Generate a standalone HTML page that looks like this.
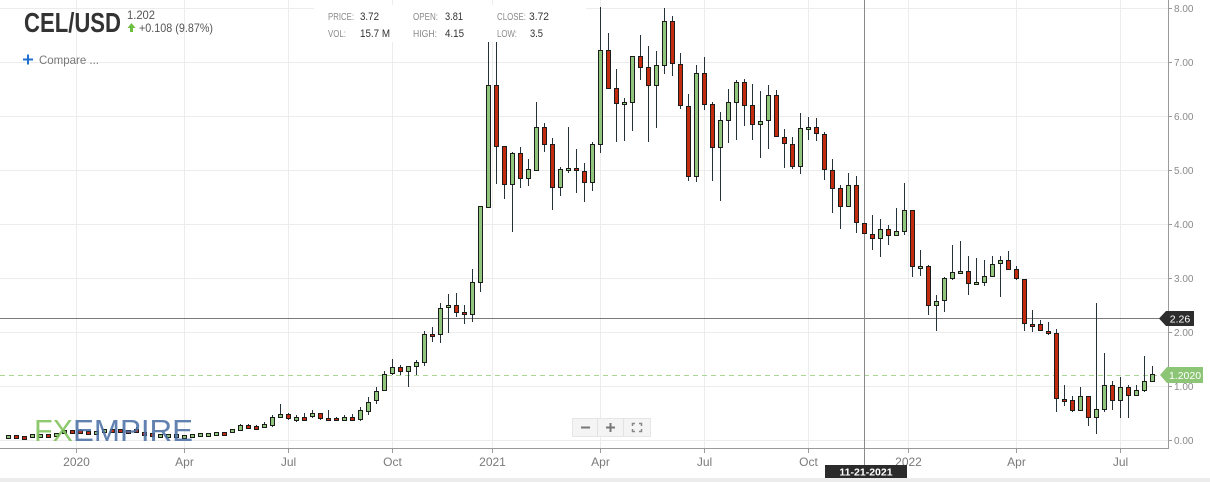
<!DOCTYPE html>
<html><head><meta charset="utf-8"><style>
html,body{margin:0;padding:0;background:#fff;}
svg{display:block;}
text{font-family:"Liberation Sans",sans-serif;}
.g{fill:#90c67c;stroke:#1c1c1c;stroke-width:1;}
.r{fill:#c22b0d;stroke:#1c1c1c;stroke-width:1;}
</style></head><body>
<svg width="1210" height="482" viewBox="0 0 1210 482" xmlns="http://www.w3.org/2000/svg">
<rect x="0" y="0" width="1210" height="482" fill="#fff"/>
<rect x="0" y="478" width="1210" height="4" fill="#ececec"/>
<!-- grid -->
<g stroke="#ececec" stroke-width="1">
<line x1="0" y1="8.5" x2="1168" y2="8.5"/><line x1="0" y1="62.5" x2="1168" y2="62.5"/><line x1="0" y1="116.5" x2="1168" y2="116.5"/><line x1="0" y1="170.5" x2="1168" y2="170.5"/><line x1="0" y1="224.5" x2="1168" y2="224.5"/><line x1="0" y1="278.5" x2="1168" y2="278.5"/><line x1="0" y1="332.5" x2="1168" y2="332.5"/><line x1="0" y1="386.5" x2="1168" y2="386.5"/><line x1="0" y1="440.5" x2="1168" y2="440.5"/>
<line x1="76.5" y1="0" x2="76.5" y2="448"/><line x1="184.5" y1="0" x2="184.5" y2="448"/><line x1="288.5" y1="0" x2="288.5" y2="448"/><line x1="392.5" y1="0" x2="392.5" y2="448"/><line x1="492.5" y1="0" x2="492.5" y2="448"/><line x1="600.5" y1="0" x2="600.5" y2="448"/><line x1="704.5" y1="0" x2="704.5" y2="448"/><line x1="808.5" y1="0" x2="808.5" y2="448"/><line x1="908.5" y1="0" x2="908.5" y2="448"/><line x1="1016.5" y1="0" x2="1016.5" y2="448"/><line x1="1120.5" y1="0" x2="1120.5" y2="448"/>
</g>
<!-- axes -->
<g stroke="#9a9a9a" stroke-width="1">
<line x1="1168.5" y1="0" x2="1168.5" y2="449"/><line x1="0" y1="448.5" x2="1169" y2="448.5"/>
<line x1="1168" y1="8.5" x2="1172" y2="8.5"/><line x1="1168" y1="62.5" x2="1172" y2="62.5"/><line x1="1168" y1="116.5" x2="1172" y2="116.5"/><line x1="1168" y1="170.5" x2="1172" y2="170.5"/><line x1="1168" y1="224.5" x2="1172" y2="224.5"/><line x1="1168" y1="278.5" x2="1172" y2="278.5"/><line x1="1168" y1="332.5" x2="1172" y2="332.5"/><line x1="1168" y1="386.5" x2="1172" y2="386.5"/><line x1="1168" y1="440.5" x2="1172" y2="440.5"/>
<line x1="76.5" y1="448" x2="76.5" y2="453"/><line x1="184.5" y1="448" x2="184.5" y2="453"/><line x1="288.5" y1="448" x2="288.5" y2="453"/><line x1="392.5" y1="448" x2="392.5" y2="453"/><line x1="492.5" y1="448" x2="492.5" y2="453"/><line x1="600.5" y1="448" x2="600.5" y2="453"/><line x1="704.5" y1="448" x2="704.5" y2="453"/><line x1="808.5" y1="448" x2="808.5" y2="453"/><line x1="908.5" y1="448" x2="908.5" y2="453"/><line x1="1016.5" y1="448" x2="1016.5" y2="453"/><line x1="1120.5" y1="448" x2="1120.5" y2="453"/>
</g>
<g font-size="10" fill="#8a8a8a">
<text x="1174" y="12">8.00</text><text x="1174" y="66">7.00</text><text x="1174" y="120">6.00</text><text x="1174" y="174">5.00</text><text x="1174" y="228">4.00</text><text x="1174" y="282">3.00</text><text x="1174" y="336">2.00</text><text x="1174" y="390">1.00</text><text x="1174" y="444">0.00</text>
</g>
<g font-size="12" fill="#7a7a7a" text-anchor="middle">
<text x="76.5" y="466">2020</text><text x="184.5" y="466">Apr</text><text x="288.5" y="466">Jul</text><text x="392.5" y="466">Oct</text><text x="492.5" y="466">2021</text><text x="600.5" y="466">Apr</text><text x="704.5" y="466">Jul</text><text x="808.5" y="466">Oct</text><text x="908.5" y="466">2022</text><text x="1016.5" y="466">Apr</text><text x="1120.5" y="466">Jul</text>
</g>
<!-- current price dashed -->
<line x1="0" y1="375.5" x2="1162" y2="375.5" stroke="#a9d595" stroke-width="1" stroke-dasharray="5,4"/>
<!-- crosshair -->
<line x1="0" y1="318.5" x2="1168" y2="318.5" stroke="#7a7a7a" stroke-width="1"/>
<line x1="864.5" y1="0" x2="864.5" y2="465" stroke="#8a8a8a" stroke-width="1"/>
<!-- wicks -->
<path fill="none" stroke="#26323a" stroke-width="1" d="
M80.5 429V434 M136.5 427V433 M232.5 429V433
M240.5 424V431 M248.5 424V429 M256.5 425V430 M264.5 422V428 M272.5 415V427 M280.5 404V418 M288.5 413V420 M296.5 415V422 M304.5 413V421 M312.5 410V418 M320.5 413V420 M328.5 410V421 M336.5 417V421 M344.5 415V421 M352.5 414V421
M360.5 407V421 M368.5 397V415 M376.5 387V404 M384.5 371V391 M392.5 359V375 M400.5 365V375 M408.5 366V387 M416.5 360V375 M424.5 331V366 M432.5 327V342 M440.5 303V343 M448.5 294V333 M456.5 293V317 M464.5 305V324 M472.5 269V322 M480.5 206V292
M488.5 42V207 M496.5 42V184 M504.5 146V199 M512.5 152V232 M520.5 147V188 M528.5 159V186 M536.5 102V171 M544.5 123V152 M552.5 138V210 M560.5 167V196 M568.5 127V173 M576.5 149V193 M584.5 163V202 M592.5 142V191
M600.5 7V153 M608.5 33V88 M616.5 69V142 M624.5 98V141 M632.5 56V131 M640.5 35V80 M648.5 46V142 M656.5 51V128 M664.5 8V74 M672.5 16V76 M680.5 53V109 M688.5 94V181 M696.5 65V182 M704.5 57V110 M712.5 102V181 M720.5 112V201 M728.5 89V143 M736.5 80V140 M744.5 79V126 M752.5 84V140 M760.5 91V158 M768.5 85V149 M776.5 90V136 M784.5 129V168 M792.5 137V169 M800.5 113V174 M808.5 117V140 M816.5 118V141
M824.5 132V180 M832.5 159V213 M840.5 185V229 M848.5 173V207 M856.5 176V233 M864.5 223V233 M872.5 215V250 M880.5 219V257 M888.5 225V245 M896.5 208V236 M904.5 183V235 M912.5 210V277 M920.5 250V276 M928.5 265V315 M936.5 295V331 M944.5 277V312 M952.5 245V280 M960.5 241V273 M968.5 256V295 M976.5 258V285 M984.5 260V286 M992.5 256V277 M1000.5 256V297 M1008.5 251V269 M1016.5 266V280
M1024.5 279V331 M1032.5 310V332 M1040.5 320V331 M1048.5 322V335 M1056.5 329V412 M1064.5 385V406 M1072.5 396V412 M1080.5 387V410 M1088.5 396V426 M1096.5 303V434 M1104.5 353V412 M1112.5 381V410 M1120.5 377V418 M1128.5 385V418 M1136.5 385V396 M1144.5 356V392 M1152.5 366V382"/>
<!-- bodies -->
<g>
<rect class="g" x="6.5" y="435.5" width="4" height="3"/>
<rect class="r" x="14.5" y="435.5" width="4" height="3"/>
<rect class="r" x="22.5" y="436.5" width="4" height="3"/>
<rect class="g" x="30.5" y="434.5" width="4" height="3"/>
<rect class="g" x="38.5" y="434.5" width="4" height="3"/>
<rect class="r" x="46.5" y="434.5" width="4" height="3"/>
<rect class="g" x="54.5" y="433.5" width="4" height="3"/>
<rect class="g" x="62.5" y="430.5" width="4" height="3"/>
<rect class="r" x="70.5" y="430.5" width="4" height="3"/>
<rect class="r" x="78.5" y="430.5" width="4" height="3"/>
<rect class="r" x="86.5" y="431.5" width="4" height="3"/>
<rect class="g" x="94.5" y="431.5" width="4" height="3"/>
<rect class="g" x="102.5" y="429.5" width="4" height="3"/>
<rect class="r" x="110.5" y="429.5" width="4" height="3"/>
<rect class="r" x="118.5" y="429.5" width="4" height="3"/>
<rect class="r" x="126.5" y="430.5" width="4" height="3"/>
<rect class="r" x="134.5" y="429.5" width="4" height="3"/>
<rect class="r" x="142.5" y="432.5" width="4" height="3"/>
<rect class="r" x="150.5" y="433.5" width="4" height="3"/>
<rect class="g" x="158.5" y="434.5" width="4" height="3"/>
<rect class="g" x="166.5" y="434.5" width="4" height="3"/>
<rect class="g" x="174.5" y="434.5" width="4" height="3"/>
<rect class="g" x="182.5" y="435.5" width="4" height="3"/>
<rect class="g" x="190.5" y="434.5" width="4" height="3"/>
<rect class="g" x="198.5" y="433.5" width="4" height="3"/>
<rect class="g" x="206.5" y="433.5" width="4" height="3"/>
<rect class="g" x="214.5" y="432.5" width="4" height="3"/>
<rect class="r" x="222.5" y="432.5" width="4" height="3"/>
<rect class="g" x="230.5" y="429.5" width="4" height="3"/>
<rect class="g" x="238.5" y="425.5" width="4" height="5"/>
<rect class="r" x="246.5" y="425.5" width="4" height="3"/>
<rect class="r" x="254.5" y="426.5" width="4" height="3"/>
<rect class="g" x="262.5" y="424.5" width="4" height="3"/>
<rect class="g" x="270.5" y="417.5" width="4" height="8"/>
<rect class="g" x="278.5" y="414.5" width="4" height="3"/>
<rect class="r" x="286.5" y="414.5" width="4" height="4"/>
<rect class="g" x="294.5" y="417.5" width="4" height="3"/>
<rect class="r" x="302.5" y="417.5" width="4" height="3"/>
<rect class="g" x="310.5" y="413.5" width="4" height="3"/>
<rect class="r" x="318.5" y="413.5" width="4" height="5"/>
<rect class="r" x="326.5" y="418.5" width="4" height="2"/>
<rect class="r" x="334.5" y="418.5" width="4" height="2"/>
<rect class="g" x="342.5" y="417.5" width="4" height="3"/>
<rect class="r" x="350.5" y="417.5" width="4" height="3"/>
<rect class="g" x="358.5" y="410.5" width="4" height="9"/>
<rect class="g" x="366.5" y="402.5" width="4" height="9"/>
<rect class="g" x="374.5" y="391.5" width="4" height="9"/>
<rect class="g" x="382.5" y="374.5" width="4" height="16"/>
<rect class="g" x="390.5" y="367.5" width="4" height="6"/>
<rect class="r" x="398.5" y="367.5" width="4" height="4"/>
<rect class="g" x="406.5" y="366.5" width="4" height="5"/>
<rect class="g" x="414.5" y="362.5" width="4" height="4"/>
<rect class="g" x="422.5" y="334.5" width="4" height="28"/>
<rect class="r" x="430.5" y="334.5" width="4" height="2"/>
<rect class="g" x="438.5" y="308.5" width="4" height="26"/>
<rect class="g" x="446.5" y="305.5" width="4" height="2"/>
<rect class="r" x="454.5" y="305.5" width="4" height="7"/>
<rect class="r" x="462.5" y="312.5" width="4" height="2"/>
<rect class="g" x="470.5" y="282.5" width="4" height="32"/>
<rect class="g" x="478.5" y="206.5" width="4" height="76"/>
<rect class="g" x="486.5" y="85.5" width="4" height="122"/>
<rect class="r" x="494.5" y="85.5" width="4" height="61"/>
<rect class="r" x="502.5" y="146.5" width="4" height="38"/>
<rect class="g" x="510.5" y="153.5" width="4" height="31"/>
<rect class="r" x="518.5" y="153.5" width="4" height="25"/>
<rect class="g" x="526.5" y="169.5" width="4" height="9"/>
<rect class="g" x="534.5" y="127.5" width="4" height="43"/>
<rect class="r" x="542.5" y="127.5" width="4" height="17"/>
<rect class="r" x="550.5" y="144.5" width="4" height="43"/>
<rect class="g" x="558.5" y="169.5" width="4" height="18"/>
<rect class="g" x="566.5" y="168.5" width="4" height="2"/>
<rect class="r" x="574.5" y="168.5" width="4" height="2"/>
<rect class="r" x="582.5" y="171.5" width="4" height="11"/>
<rect class="g" x="590.5" y="144.5" width="4" height="38"/>
<rect class="g" x="598.5" y="50.5" width="4" height="94"/>
<rect class="r" x="606.5" y="50.5" width="4" height="38"/>
<rect class="r" x="614.5" y="88.5" width="4" height="15"/>
<rect class="g" x="622.5" y="102.5" width="4" height="2"/>
<rect class="g" x="630.5" y="56.5" width="4" height="46"/>
<rect class="r" x="638.5" y="56.5" width="4" height="11"/>
<rect class="r" x="646.5" y="67.5" width="4" height="18"/>
<rect class="g" x="654.5" y="65.5" width="4" height="20"/>
<rect class="g" x="662.5" y="21.5" width="4" height="44"/>
<rect class="r" x="670.5" y="21.5" width="4" height="42"/>
<rect class="r" x="678.5" y="64.5" width="4" height="41"/>
<rect class="r" x="686.5" y="106.5" width="4" height="70"/>
<rect class="g" x="694.5" y="73.5" width="4" height="103"/>
<rect class="r" x="702.5" y="73.5" width="4" height="31"/>
<rect class="r" x="710.5" y="104.5" width="4" height="43"/>
<rect class="g" x="718.5" y="120.5" width="4" height="27"/>
<rect class="g" x="726.5" y="102.5" width="4" height="18"/>
<rect class="g" x="734.5" y="82.5" width="4" height="20"/>
<rect class="r" x="742.5" y="82.5" width="4" height="23"/>
<rect class="r" x="750.5" y="105.5" width="4" height="19"/>
<rect class="g" x="758.5" y="121.5" width="4" height="3"/>
<rect class="g" x="766.5" y="95.5" width="4" height="25"/>
<rect class="r" x="774.5" y="95.5" width="4" height="41"/>
<rect class="r" x="782.5" y="137.5" width="4" height="6"/>
<rect class="r" x="790.5" y="144.5" width="4" height="22"/>
<rect class="g" x="798.5" y="128.5" width="4" height="38"/>
<rect class="g" x="806.5" y="127.5" width="4" height="2"/>
<rect class="r" x="814.5" y="127.5" width="4" height="6"/>
<rect class="r" x="822.5" y="134.5" width="4" height="35"/>
<rect class="r" x="830.5" y="170.5" width="4" height="18"/>
<rect class="r" x="838.5" y="188.5" width="4" height="18"/>
<rect class="g" x="846.5" y="185.5" width="4" height="21"/>
<rect class="r" x="854.5" y="185.5" width="4" height="37"/>
<rect class="r" x="862.5" y="223.5" width="4" height="10"/>
<rect class="r" x="870.5" y="234.5" width="4" height="4"/>
<rect class="g" x="878.5" y="229.5" width="4" height="9"/>
<rect class="r" x="886.5" y="229.5" width="4" height="6"/>
<rect class="g" x="894.5" y="231.5" width="4" height="4"/>
<rect class="g" x="902.5" y="210.5" width="4" height="21"/>
<rect class="r" x="910.5" y="210.5" width="4" height="56"/>
<rect class="g" x="918.5" y="266.5" width="4" height="2"/>
<rect class="r" x="926.5" y="266.5" width="4" height="39"/>
<rect class="g" x="934.5" y="301.5" width="4" height="4"/>
<rect class="g" x="942.5" y="278.5" width="4" height="22"/>
<rect class="g" x="950.5" y="272.5" width="4" height="6"/>
<rect class="g" x="958.5" y="271.5" width="4" height="2"/>
<rect class="r" x="966.5" y="271.5" width="4" height="12"/>
<rect class="g" x="974.5" y="282.5" width="4" height="2"/>
<rect class="g" x="982.5" y="276.5" width="4" height="6"/>
<rect class="g" x="990.5" y="264.5" width="4" height="12"/>
<rect class="g" x="998.5" y="260.5" width="4" height="3"/>
<rect class="r" x="1006.5" y="260.5" width="4" height="9"/>
<rect class="r" x="1014.5" y="269.5" width="4" height="9"/>
<rect class="r" x="1022.5" y="279.5" width="4" height="44"/>
<rect class="r" x="1030.5" y="324.5" width="4" height="2"/>
<rect class="r" x="1038.5" y="324.5" width="4" height="6"/>
<rect class="r" x="1046.5" y="331.5" width="4" height="2"/>
<rect class="r" x="1054.5" y="333.5" width="4" height="65"/>
<rect class="r" x="1062.5" y="399.5" width="4" height="2"/>
<rect class="r" x="1070.5" y="400.5" width="4" height="10"/>
<rect class="g" x="1078.5" y="396.5" width="4" height="14"/>
<rect class="r" x="1086.5" y="396.5" width="4" height="21"/>
<rect class="g" x="1094.5" y="409.5" width="4" height="8"/>
<rect class="g" x="1102.5" y="385.5" width="4" height="24"/>
<rect class="r" x="1110.5" y="385.5" width="4" height="15"/>
<rect class="g" x="1118.5" y="387.5" width="4" height="13"/>
<rect class="r" x="1126.5" y="387.5" width="4" height="8"/>
<rect class="g" x="1134.5" y="390.5" width="4" height="5"/>
<rect class="g" x="1142.5" y="381.5" width="4" height="9"/>
<rect class="g" x="1150.5" y="374.5" width="4" height="7"/>
</g>
<!-- logo -->
<g opacity="0.88" font-size="31">
<text x="34" y="441" fill="#7fc25a" textLength="39" lengthAdjust="spacingAndGlyphs">FX</text>
<text x="73" y="441" fill="#4c70a6" textLength="120" lengthAdjust="spacingAndGlyphs">EMPIRE</text>
</g>
<!-- zoom controls -->
<rect x="572.5" y="418.5" width="78" height="18" fill="#f4f4f4" stroke="#e6e6e6" stroke-width="1"/>
<line x1="597.5" y1="419" x2="597.5" y2="436" stroke="#e2e2e2"/>
<line x1="623.5" y1="419" x2="623.5" y2="436" stroke="#e2e2e2"/>
<g stroke="#777" stroke-width="2" fill="none">
<line x1="581" y1="427.5" x2="590" y2="427.5"/>
<line x1="606" y1="427.5" x2="615" y2="427.5"/><line x1="610.5" y1="423" x2="610.5" y2="432"/>
</g>
<g stroke="#888" stroke-width="1.5" fill="none">
<path d="M632.5 426V423.5H635 M639 423.5H641.5V426 M641.5 429V431.5H639 M635 431.5H632.5V429"/>
</g>
<!-- price labels -->
<path d="M1159 318.5 L1166 311 H1194 V326 H1166 Z" fill="#2d2d2d"/>
<text x="1180" y="322.5" font-size="10.5" fill="#fff" text-anchor="middle">2.26</text>
<path d="M1160 375 L1167 367 H1203 V383 H1167 Z" fill="#8cc576"/>
<text x="1185" y="379" font-size="10.5" fill="#fff" text-anchor="middle">1.2020</text>
<!-- date label -->
<rect x="825" y="465" width="82" height="13" fill="#2b2b2b"/>
<text x="866" y="475.5" font-size="10.5" fill="#fff" text-anchor="middle" font-weight="bold">11-21-2021</text>
<!-- info box -->
<rect x="314" y="5" width="272" height="37" fill="#fff"/>
<g font-size="10">
<text x="328" y="20" fill="#8a8a8a" textLength="26" lengthAdjust="spacingAndGlyphs">PRICE:</text>
<text x="360" y="20" fill="#333" textLength="19" lengthAdjust="spacingAndGlyphs" font-size="11">3.72</text>
<text x="328" y="37" fill="#8a8a8a" textLength="18" lengthAdjust="spacingAndGlyphs">VOL:</text>
<text x="360" y="37" fill="#333" textLength="30" lengthAdjust="spacingAndGlyphs" font-size="11">15.7 M</text>
<text x="413" y="20" fill="#8a8a8a" textLength="25" lengthAdjust="spacingAndGlyphs">OPEN:</text>
<text x="445" y="20" fill="#333" textLength="18" lengthAdjust="spacingAndGlyphs" font-size="11">3.81</text>
<text x="413" y="37" fill="#8a8a8a" textLength="24" lengthAdjust="spacingAndGlyphs">HIGH:</text>
<text x="445" y="37" fill="#333" textLength="19" lengthAdjust="spacingAndGlyphs" font-size="11">4.15</text>
<text x="497" y="20" fill="#8a8a8a" textLength="29" lengthAdjust="spacingAndGlyphs">CLOSE:</text>
<text x="529" y="20" fill="#333" textLength="20" lengthAdjust="spacingAndGlyphs" font-size="11">3.72</text>
<text x="497" y="37" fill="#8a8a8a" textLength="20" lengthAdjust="spacingAndGlyphs">LOW:</text>
<text x="530" y="37" fill="#333" textLength="13" lengthAdjust="spacingAndGlyphs" font-size="11">3.5</text>
</g>
<!-- header -->
<text x="24" y="32" font-size="28" font-weight="bold" fill="#333" textLength="97" lengthAdjust="spacingAndGlyphs">CEL/USD</text>
<text x="127" y="19" font-size="11.5" fill="#555" textLength="28" lengthAdjust="spacingAndGlyphs">1.202</text>
<path d="M131.5 23 L135.5 28 H133 V32 H130 V28 H127.5 Z" fill="#6dbf3f"/>
<text x="139" y="32" font-size="12" fill="#555" textLength="74" lengthAdjust="spacingAndGlyphs">+0.108 (9.87%)</text>
<g stroke="#1f6fd1" stroke-width="2">
<line x1="23" y1="59.5" x2="33" y2="59.5"/><line x1="28" y1="54.5" x2="28" y2="64.5"/>
</g>
<text x="39" y="64" font-size="12" fill="#777" textLength="60" lengthAdjust="spacingAndGlyphs">Compare ...</text>
</svg>
</body></html>
